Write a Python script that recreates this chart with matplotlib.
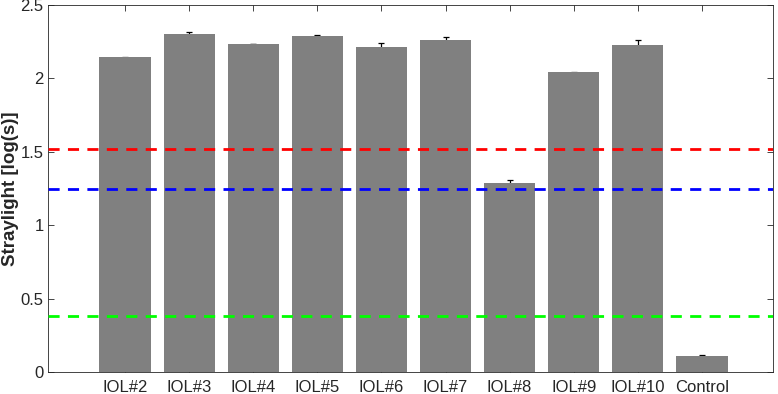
import numpy as np
import matplotlib
matplotlib.use("Agg")
import matplotlib.pyplot as plt
import matplotlib.ticker as mtick

plt.rcParams['font.family'] = ['Liberation Sans', 'DejaVu Sans']

# data
labels = ['IOL#2', 'IOL#3', 'IOL#4', 'IOL#5', 'IOL#6', 'IOL#7', 'IOL#8', 'IOL#9', 'IOL#10', 'Control']
straylight = [2.144, 2.300, 2.234, 2.291, 2.214, 2.262, 1.290, 2.041, 2.230, 0.111]
err = [0.003, 0.018, 0.003, 0.005, 0.025, 0.020, 0.020, 0.003, 0.033, 0.008]
ref_red = 1.517
ref_blue = 1.245
ref_green = 0.381

axcol = (0.15, 0.15, 0.15)

fig = plt.figure(figsize=(7.78, 3.94), dpi=100)
ax = fig.add_axes([0.0623, 0.0558, 0.9313, 0.9315])

x = np.arange(1, len(labels) + 1)
# error bars under the bars, so only the upper half shows (as in the original)
ax.errorbar(x, straylight, yerr=err, fmt='none', ecolor='black',
            elinewidth=0.9, capsize=2.5, capthick=0.9, zorder=1)
ax.bar(x, straylight, width=0.8, color='#808080', zorder=2)

ax.axhline(ref_red, color='#ff0000', linestyle=(0, (4, 3)), linewidth=2, zorder=4)
ax.axhline(ref_blue, color='#0000ff', linestyle=(0, (4, 3)), linewidth=2, zorder=4)
ax.axhline(ref_green, color='#00ff00', linestyle=(0, (4, 3)), linewidth=2, zorder=4)

ax.set_xlim(-0.195, 11.11)
ax.set_ylim(0, 2.5)
ax.set_xticks(x)
ax.set_xticklabels(labels)
ax.set_yticks([0, 0.5, 1, 1.5, 2, 2.5])
ax.yaxis.set_major_formatter(mtick.FuncFormatter(lambda v, p: ('%g' % v)))

ax.tick_params(direction='in', top=True, right=True, length=4, width=0.6,
               colors=axcol, labelsize=12, labelcolor=axcol)
ax.tick_params(axis='x', pad=6)
for s in ax.spines.values():
    s.set_color(axcol)
    s.set_linewidth(0.6)

ax.set_ylabel('Straylight [log(s)]', fontsize=13.5, fontweight='bold', color=axcol)
ax.yaxis.set_label_coords(-0.041, 0.5)

fig.savefig('out.png', dpi=100)
